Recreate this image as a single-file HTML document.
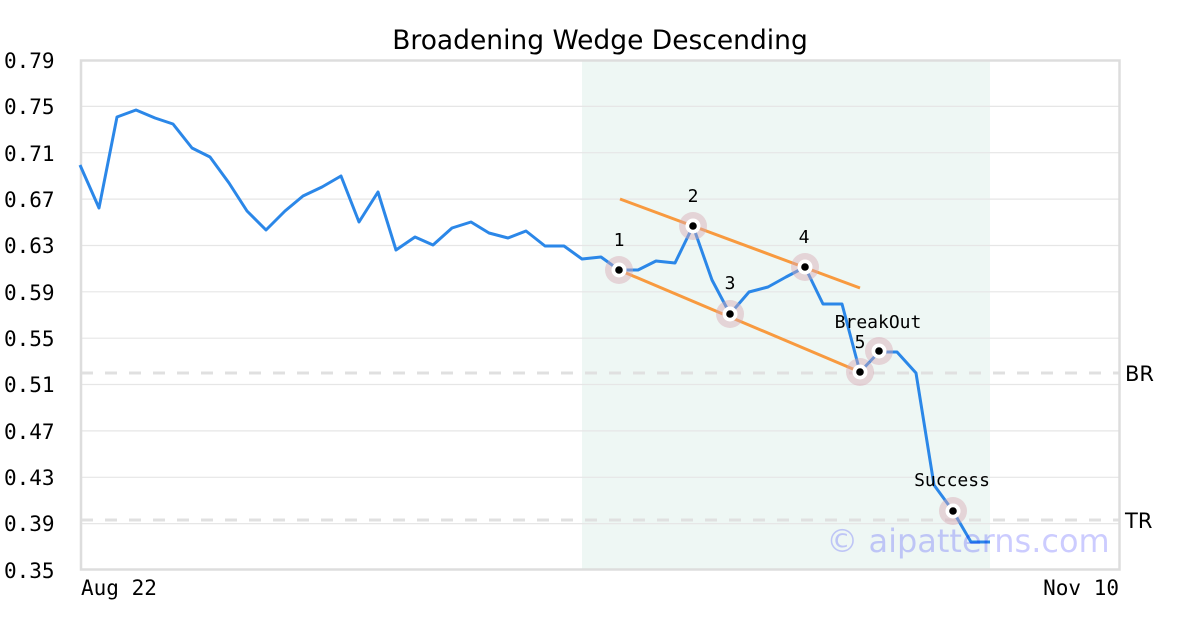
<!DOCTYPE html>
<html><head><meta charset="utf-8"><style>
html,body{margin:0;padding:0;background:#fff;}
svg{display:block;}
</style></head><body>
<svg width="1200" height="630" viewBox="0 0 1200 630" xmlns="http://www.w3.org/2000/svg">
<rect width="1200" height="630" fill="#fff"/>
<text x="600" y="49" text-anchor="middle" font-family="DejaVu Sans, Liberation Sans, sans-serif" font-size="26.5" fill="#000">Broadening Wedge Descending</text>
<rect x="582" y="60" width="408" height="510" fill="#eef7f4"/>
<g stroke="#e6e6e6" stroke-width="1.2">
<line x1="80" x2="1120" y1="106.4" y2="106.4"/>
<line x1="80" x2="1120" y1="152.7" y2="152.7"/>
<line x1="80" x2="1120" y1="199.1" y2="199.1"/>
<line x1="80" x2="1120" y1="245.5" y2="245.5"/>
<line x1="80" x2="1120" y1="291.8" y2="291.8"/>
<line x1="80" x2="1120" y1="338.2" y2="338.2"/>
<line x1="80" x2="1120" y1="384.5" y2="384.5"/>
<line x1="80" x2="1120" y1="430.9" y2="430.9"/>
<line x1="80" x2="1120" y1="477.3" y2="477.3"/>
<line x1="80" x2="1120" y1="523.6" y2="523.6"/>
</g>
<g stroke="#e0e0e0" stroke-width="3" stroke-dasharray="12,12">
<line x1="81" x2="1120" y1="373" y2="373"/>
<line x1="81" x2="1120" y1="520" y2="520"/>
</g>
<rect x="81" y="60.5" width="1038.5" height="509" fill="none" stroke="#dddddd" stroke-width="2.5"/>
<g font-family="DejaVu Sans Mono, Liberation Mono, monospace" font-size="21" fill="#000">
<text x="4" y="68">0.79</text>
<text x="4" y="114">0.75</text>
<text x="4" y="161">0.71</text>
<text x="4" y="207">0.67</text>
<text x="4" y="253">0.63</text>
<text x="4" y="300">0.59</text>
<text x="4" y="346">0.55</text>
<text x="4" y="392">0.51</text>
<text x="4" y="439">0.47</text>
<text x="4" y="485">0.43</text>
<text x="4" y="531">0.39</text>
<text x="4" y="578">0.35</text>
<text x="81" y="595">Aug 22</text>
<text x="1119" y="595" text-anchor="end">Nov 10</text>
</g>
<g font-family="DejaVu Sans, Liberation Sans, sans-serif" font-size="21" fill="#000">
<text x="1125" y="381">BR</text>
<text x="1125" y="528">TR</text>
</g>
<polyline fill="none" stroke="#2b87e8" stroke-width="3" stroke-linejoin="round" points="80,165 99,208 117,117 136,110 155,118 173,124 192,148 210,157 229,183 247,211 266,230 285,211 303,196 322,187 341,176 359,222 378,192 396,250 415,237 433,245 452,228 471,222 489,233 508,238 526,231 545,246 564,246 582,259 601,257 619,270 638,270 656,261 675,263 693,226 712,280 730,314 749,292 768,287 786,277 805,267 823,304 842,304 860,372 879,352 897,352 916,373 934,485 953,511 971,542 990,542"/>
<g stroke="#f89a3f" stroke-width="3">
<line x1="620" y1="199" x2="860" y2="288"/>
<line x1="619" y1="270" x2="860" y2="372"/>
</g>
<g>
<g fill="#d8a8b4" fill-opacity="0.45">
<circle cx="619" cy="270" r="14"/>
<circle cx="693" cy="226" r="14"/>
<circle cx="730" cy="314" r="14"/>
<circle cx="805" cy="267" r="14"/>
<circle cx="860" cy="372" r="14"/>
<circle cx="879" cy="351" r="14"/>
<circle cx="953" cy="511" r="14"/>
</g>
<g fill="#fff">
<circle cx="619" cy="270" r="7.5"/>
<circle cx="693" cy="226" r="7.5"/>
<circle cx="730" cy="314" r="7.5"/>
<circle cx="805" cy="267" r="7.5"/>
<circle cx="860" cy="372" r="7.5"/>
<circle cx="879" cy="351" r="7.5"/>
<circle cx="953" cy="511" r="7.5"/>
</g>
<g fill="#000">
<circle cx="619" cy="270" r="3.8"/>
<circle cx="693" cy="226" r="3.8"/>
<circle cx="730" cy="314" r="3.8"/>
<circle cx="805" cy="267" r="3.8"/>
<circle cx="860" cy="372" r="3.8"/>
<circle cx="879" cy="351" r="3.8"/>
<circle cx="953" cy="511" r="3.8"/>
</g>
</g>
<g font-family="DejaVu Sans Mono, Liberation Mono, monospace" font-size="18" fill="#000" text-anchor="middle">
<text x="619" y="246">1</text>
<text x="693" y="202">2</text>
<text x="730" y="289">3</text>
<text x="804" y="243">4</text>
<text x="878" y="328">BreakOut</text>
<text x="860" y="348">5</text>
<text x="952" y="486">Success</text>
</g>
<text x="968" y="552" text-anchor="middle" font-family="DejaVu Sans, Liberation Sans, sans-serif" font-size="32" fill="#0000ff" fill-opacity="0.2">© aipatterns.com</text>
</svg>
</body></html>
